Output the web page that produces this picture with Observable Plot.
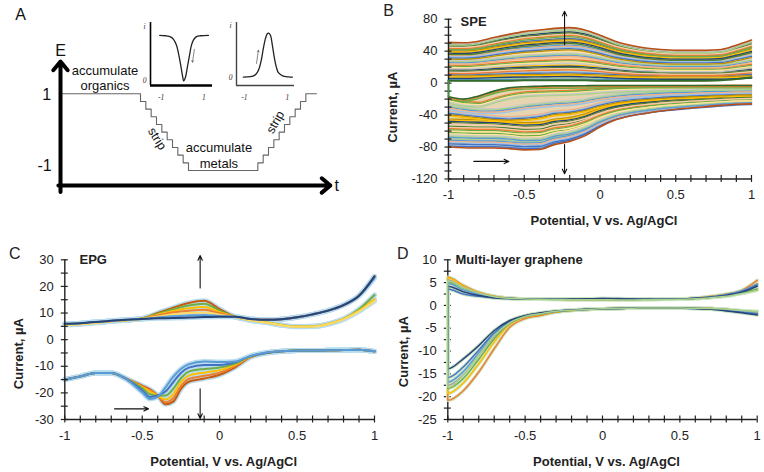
<!DOCTYPE html>
<html><head><meta charset="utf-8">
<script src="https://cdn.jsdelivr.net/npm/d3@7"></script>
<script src="https://cdn.jsdelivr.net/npm/@observablehq/plot@0.6"></script>
<style>
body{margin:0;background:#fff;}
#fig{position:relative;width:764px;height:472px;overflow:hidden;background:#fff;}
#fig svg{position:absolute;overflow:visible;}
</style></head><body><div id="fig"></div>
<script>
// ---------- Panel A: waveform schematic ----------
const waveT = [0,15,16,17,18,19,20,21,22,23,24,37,38,39,40,41,42,43,44,45,46,48];
const waveE = [1,0.8,0.6,0.4,0.2,0,-0.2,-0.4,-0.6,-0.8,-1,-0.8,-0.6,-0.4,-0.2,0,0.2,0.4,0.6,0.8,1,1];
const dipX = [-1.07,-0.8,-0.56,-0.42,-0.28,-0.19,-0.09,0,0.06,0.14,0.23,0.33,0.42,0.52,0.66,0.85,1.22];
const dipI = [1,0.99,0.965,0.91,0.78,0.61,0.37,0.12,0,0.08,0.3,0.56,0.78,0.9,0.97,0.99,1];
const peakX = [-1.05,-0.72,-0.53,-0.4,-0.3,-0.21,-0.12,-0.02,0.07,0.12,0.21,0.3,0.4,0.49,0.58,0.77,1.05,1.23];
const peakI = [0,0.01,0.04,0.11,0.22,0.4,0.65,0.88,0.99,1,0.95,0.72,0.42,0.22,0.1,0.03,0.005,0];

// ---------- Panels B-D: shared potential grid ----------
const vGrid = [-1,-0.9,-0.8,-0.7,-0.6,-0.5,-0.4,-0.3,-0.2,-0.1,0,0.1,0.2,0.3,0.4,0.5,0.6,0.7,0.8,0.9,1];
const xMajor = [-1,-0.5,0,0.5,1];

// B: SPE (outer -> inner)
const speAnodic = [
 [51,50.5,52.5,57,61,64.5,66.5,68.5,69.5,66.5,60,52.5,47.5,44,42,41,41,41,42,47.5,54],
 [45,44.6,46.3,50.3,53.8,56.8,58.6,60.3,61.2,58.6,52.9,46.3,41.9,38.9,37.1,36.3,36.3,36.3,37.1,41.9,47.6],
 [39,38.6,40.1,43.5,46.5,49.1,50.6,52.1,52.9,50.6,45.8,40.1,36.4,33.8,32.3,31.5,31.5,31.5,32.3,36.4,41.3],
 [33,32.7,33.9,36.8,39.3,41.4,42.7,43.9,44.6,42.7,38.6,33.9,30.8,28.6,27.4,26.8,26.8,26.8,27.4,30.8,34.9],
 [27,26.8,27.8,30,32,33.8,34.8,35.8,36.3,34.8,31.5,27.8,25.3,23.5,22.5,22,22,22,22.5,25.3,28.5],
 [21,20.8,21.6,23.3,24.8,26.1,26.8,27.6,27.9,26.8,24.4,21.6,19.7,18.4,17.6,17.3,17.3,17.3,17.6,19.7,22.1],
 [15,14.9,15.4,16.5,17.5,18.4,18.9,19.4,19.6,18.9,17.3,15.4,14.1,13.3,12.8,12.5,12.5,12.5,12.8,14.1,15.8],
 [9,8.9,9.2,9.8,10.3,10.7,10.9,11.2,11.3,10.9,10.1,9.2,8.6,8.1,7.9,7.8,7.8,7.8,7.9,8.6,9.4],
 [3,3,3,3,3,3.5,3.5,3.5,3.5,3.5,3,3,3,3,3,3,3,3,3.5,5,7]
];
const speCathodic = [
 [-80,-80.8,-81.2,-81.2,-82,-83.5,-83,-77,-73,-66,-55,-46.3,-41.2,-37.9,-34.9,-32.8,-31.1,-29.5,-27.8,-26.5,-26],
 [-73,-73.5,-74,-74,-75,-76.5,-76,-70.5,-67,-60.5,-50.5,-42.8,-38,-35,-32.3,-30.3,-28.7,-27.3,-25.7,-24.5,-24],
 [-65,-65.5,-66,-66,-67,-69,-68.5,-63.5,-60.5,-54.5,-45.5,-38.5,-34.3,-31.5,-29,-27.3,-25.8,-24.5,-23.1,-22,-21.5],
 [-57,-57.5,-58,-58,-59.5,-61,-60.5,-56,-53.5,-48,-40,-34,-30.3,-27.8,-25.6,-24.1,-22.8,-21.6,-20.4,-19.4,-19],
 [-48,-48.5,-49,-49.5,-51,-52.5,-52,-48,-46,-41.5,-34.5,-29.3,-26,-24,-22,-20.7,-19.6,-18.6,-17.6,-16.7,-16.3],
 [-38,-40,-42,-44,-45,-44,-42,-38,-36.5,-33,-27.5,-23.5,-21,-19.3,-17.8,-16.8,-15.9,-15.1,-14.3,-13.6,-13.3],
 [-30,-33,-35,-35,-33,-30,-28,-26,-25,-22.5,-19,-16.5,-14.8,-13.7,-12.7,-12,-11.4,-10.8,-10.3,-9.8,-9.6],
 [-22,-26,-27,-22,-17,-14,-13,-12.5,-12,-11,-9.5,-8.5,-7.8,-7.3,-6.9,-6.6,-6.3,-6,-5.8,-5.6,-5.5],
 [-17,-20,-16,-10,-6,-4.5,-4,-3.5,-3.5,-3.2,-3,-3,-3,-3,-3,-3,-3,-3,-3,-3,-3]
];
const speYMinor = [-120,-110,-100,-90,-80,-70,-60,-50,-40,-30,-20,-10,0,10,20,30,40,50,60,70,80];
const speYMajor = [-120,-80,-40,0,40,80];

// C: EPG
const epgAnodic = [
 [5.9,6.1,6.5,7,7.4,8,10,12,13.8,14.6,11.5,8.6,7.8,7.5,7.7,8.4,9.5,10.9,13,16.5,23.8],
 [5.9,6.1,6.5,7,7.4,8,9.7,11.4,12.8,13.5,10.9,8.6,7.3,6.5,5.5,4.9,5,5.9,7.8,11.4,16.8],
 [5.7,5.9,6.4,6.9,7.3,7.9,9.4,10.8,11.8,12.3,10.3,8.6,7.3,6.5,5.5,4.9,5,5.9,7.8,10.9,15.2],
 [5.9,6.1,6.5,7,7.4,7.9,9.1,10.2,10.9,11.2,9.9,8.6,7.8,7.5,7.7,8.4,9.5,10.9,13,16.5,23.5],
 [5.6,5.8,6.3,6.9,7.3,7.8,8.7,9.5,10,10.2,9.4,8.5,7.2,6.4,5.4,4.8,4.9,5.8,7.6,10.6,14.5],
 [6,6.2,6.6,7.1,7.5,7.8,8.3,8.8,9.1,9.3,8.9,8.6,7.8,7.5,7.7,8.4,9.5,10.9,13,16.5,23.2],
 [6,6.2,6.6,7.1,7.5,7.8,8,8.1,8.3,8.5,8.6,8.6,7.8,7.5,7.7,8.4,9.5,10.9,13,16.5,23.8]
];
const epgAnodicColors = ["#C55A11","#70AD47","#FFC000","#ED7D31","#FFD966","#5B9BD5","#264478"];
const epgCathX = [-1,-0.9,-0.8,-0.7,-0.6,-0.5,-0.45,-0.4,-0.35,-0.3,-0.25,-0.2,-0.1,0,0.1,0.2,0.3,0.4,0.5,0.6,0.7,0.8,0.9,1];
const epgCathodic = [
 [-15,-13.8,-12.5,-12.5,-14.8,-17.3,-18.7,-21,-24.3,-23.3,-18.5,-15.8,-14.6,-13.2,-10.4,-6.6,-5,-4.4,-4.1,-4.1,-4,-3.9,-3.8,-4.4],
 [-15,-13.8,-12.5,-12.5,-14.8,-17.5,-19,-21,-23.5,-22,-17.5,-14.8,-13.6,-12.4,-9.9,-6.5,-5,-4.4,-4.1,-4.1,-4,-3.9,-3.8,-4.4],
 [-15,-13.8,-12.5,-12.5,-14.8,-17.8,-19.5,-21,-22.5,-20.5,-16,-13.5,-12.4,-11.5,-9.4,-6.4,-5,-4.4,-4.1,-4.1,-4,-3.9,-3.8,-4.4],
 [-15,-13.8,-12.5,-12.5,-14.8,-18.2,-20.5,-21,-21,-18.5,-14.5,-12,-11,-10.5,-9,-6.3,-5,-4.4,-4.1,-4.1,-4,-3.9,-3.8,-4.4],
 [-15,-13.8,-12.5,-12.5,-14.8,-19,-21.5,-21,-19.5,-16,-12.5,-10.5,-9.5,-9.5,-8.5,-6.2,-5,-4.4,-4.1,-4.1,-4,-3.9,-3.8,-4.4],
 [-15,-13.8,-12.5,-12.5,-15,-19.8,-22.3,-21.5,-18,-14,-11,-9.3,-8.2,-8.4,-8.2,-6.1,-4.8,-4.4,-4.1,-4.1,-4,-3.9,-3.8,-4.4]
];
const epgCathodicColors = ["#C55A11","#ED7D31","#FFC000","#70AD47","#4472C4","#5B9BD5"];
const epgYMinor = [-30,-25,-20,-15,-10,-5,0,5,10,15,20,25,30];
const epgYMajor = [-30,-20,-10,0,10,20,30];

// D: multi-layer graphene
const mlgAnodic = [
 [6.2,4.4,2.9,2,1.6,1.45,1.4,1.35,1.3,1.3,1.3,1.3,1.3,1.35,1.4,1.45,1.6,2,2.5,3.3,5.5],
 [6,4.2,2.8,2,1.6,1.45,1.4,1.35,1.3,1.3,1.3,1.3,1.3,1.35,1.4,1.45,1.6,1.9,2.4,3.1,4.8],
 [5.2,3.8,2.6,1.9,1.55,1.4,1.35,1.3,1.3,1.3,1.3,1.25,1.25,1.3,1.35,1.4,1.5,1.75,2.1,2.7,3.6],
 [5.6,4,2.7,1.95,1.55,1.45,1.4,1.35,1.3,1.3,1.3,1.3,1.3,1.35,1.4,1.45,1.55,1.85,2.3,3,4.3],
 [4.8,3.4,2.4,1.8,1.5,1.4,1.35,1.35,1.35,1.4,1.45,1.4,1.35,1.35,1.4,1.45,1.6,1.9,2.4,3.2,4.7],
 [3.6,2.5,2,1.65,1.5,1.4,1.35,1.35,1.35,1.4,1.5,1.5,1.4,1.35,1.35,1.4,1.55,1.8,2.3,3,4.5],
 [4.2,3,2.2,1.7,1.5,1.4,1.35,1.35,1.4,1.45,1.5,1.45,1.4,1.35,1.35,1.4,1.55,1.8,2.2,2.9,4.2],
 [5.4,3.9,2.7,1.9,1.55,1.4,1.35,1.3,1.25,1.25,1.25,1.2,1.2,1.25,1.3,1.35,1.45,1.7,2,2.6,3.3]
];
const mlgCathodic = [
 [-20.8,-18.7,-14.6,-9.5,-4.8,-2.9,-2.2,-1.5,-1.1,-0.9,-0.75,-0.65,-0.6,-0.55,-0.55,-0.55,-0.6,-0.7,-0.9,-1.3,-1.6],
 [-19.3,-17,-12.8,-8,-4.2,-2.6,-2,-1.4,-1.1,-0.9,-0.75,-0.65,-0.6,-0.55,-0.55,-0.55,-0.6,-0.7,-0.9,-1.2,-1.5],
 [-18.2,-16,-11.8,-7.3,-4,-2.5,-1.9,-1.4,-1.1,-0.9,-0.75,-0.65,-0.6,-0.55,-0.55,-0.55,-0.6,-0.7,-0.9,-1.2,-1.4],
 [-17.5,-15.2,-11,-6.8,-3.8,-2.4,-1.8,-1.3,-1.05,-0.9,-0.75,-0.65,-0.6,-0.55,-0.55,-0.55,-0.6,-0.7,-0.9,-1.2,-1.5],
 [-16.8,-14.5,-10.4,-6.4,-3.6,-2.3,-1.8,-1.3,-1.05,-0.9,-0.75,-0.65,-0.6,-0.55,-0.55,-0.6,-0.65,-0.75,-1,-1.4,-1.8],
 [-15.8,-13.5,-9.8,-6,-3.5,-2.3,-1.7,-1.25,-1,-0.85,-0.75,-0.65,-0.6,-0.55,-0.55,-0.6,-0.65,-0.8,-1.1,-1.5,-1.9],
 [-13.9,-11.7,-8.8,-5.5,-3.3,-2.2,-1.6,-1.2,-1,-0.85,-0.75,-0.65,-0.6,-0.55,-0.55,-0.6,-0.7,-0.85,-1.2,-1.6,-2.1],
 [-18,-15.3,-10.9,-6.6,-3.8,-2.4,-1.8,-1.3,-1.05,-0.9,-0.75,-0.65,-0.6,-0.55,-0.55,-0.55,-0.6,-0.7,-0.85,-1.1,-1.3]
];
const mlgColors = ["#ED7D31","#FFC000","#70AD47","#A5A5A5","#5B9BD5","#4472C4","#264478","#A9D18E"];
const mlgYMinor = [-25,-22.5,-20,-17.5,-15,-12.5,-10,-7.5,-5,-2.5,0,2.5,5,7.5,10];
const mlgYMajor = [-25,-20,-15,-10,-5,0,5,10];

// annotation arrows (data units)
const speArrows = [{x1:-0.234,y1:48,x2:-0.234,y2:90},{x1:-0.234,y1:-77,x2:-0.234,y2:-113.5},{x1:-0.833,y1:-98,x2:-0.602,y2:-98}];
const epgArrows = [{x1:-0.126,y1:19.4,x2:-0.126,y2:31.6},{x1:-0.126,y1:-18.5,x2:-0.126,y2:-29.6},{x1:-0.679,y1:-26,x2:-0.459,y2:-26}];

// ---------- helpers ----------
const FONT = '"Liberation Sans", Arial, Helvetica, sans-serif';
const fig = document.getElementById("fig");
function place(svg, left, top) { svg.style.left = left + "px"; svg.style.top = top + "px"; fig.appendChild(svg); }
function toRows(xs, list) { const out = []; list.forEach((ys, k) => ys.forEach((y, i) => out.push({x: xs[i], y, k}))); return out; }
// closed CV loop per scan: cathodic branch (right -> left) then anodic branch (left -> right)
function loopRows(xs, up, lo) {
  const out = [];
  up.forEach((ys, k) => {
    for (let i = xs.length - 1; i >= 0; i--) out.push({x: xs[i], y: lo[k][i], k});
    for (let i = 0; i < xs.length; i++) out.push({x: xs[i], y: ys[i], k});
  });
  return out;
}

function cvPanel(c) {
  return Plot.plot({
    width: c.width, height: c.height,
    marginTop: c.m[0], marginRight: c.m[1], marginBottom: c.m[2], marginLeft: c.m[3],
    x: {domain: [-1, 1]}, y: {domain: c.yDomain}, color: {type: "identity"},
    style: {fontFamily: FONT, fontSize: "13px", color: "#222", background: "transparent", overflow: "visible"},
    marks: [
      ...c.marks,
      Plot.ruleX([-1], {stroke: "#222", strokeWidth: 1.4}),
      Plot.ruleY([c.yDomain[0]], {stroke: "#222", strokeWidth: 1.4}),
      Plot.axisY({ticks: c.yMinor, tickSize: 7, dx: 3.5, tickFormat: () => "", label: null, stroke: "#222", strokeWidth: 1.2}),
      Plot.axisY({ticks: c.yMajor, tickSize: 0, tickPadding: 11, tickFormat: d => String(d), label: null, fontSize: 13}),
      Plot.axisX({ticks: vGrid, tickSize: 7, dy: -3.5, tickFormat: () => "", label: null, stroke: "#222", strokeWidth: 1.2}),
      Plot.axisX({ticks: xMajor, tickSize: 0, tickPadding: 11, tickFormat: d => String(d), label: null, fontSize: 13}),
      ...(c.after || []),
      Plot.text(["Potential, V vs. Ag/AgCl"], {text: d => d, frameAnchor: "bottom", dy: 42, dx: 4, textAnchor: "middle", lineAnchor: "middle", fontWeight: "bold", fontSize: 13}),
      Plot.text(["Current, \u00b5A"], {text: d => d, frameAnchor: "left", dx: c.yTitle[0], dy: c.yTitle[1], rotate: -90, textAnchor: "middle", lineAnchor: "middle", fontWeight: "bold", fontSize: 13}),
      Plot.text([c.name], {text: d => d, x: c.namePos[0], y: c.namePos[1], textAnchor: "start", lineAnchor: "middle", fontWeight: "bold", fontSize: 13}),
      Plot.text([c.letter], {text: d => d, frameAnchor: "top-left", dx: c.letterPos[0], dy: c.letterPos[1], textAnchor: "middle", lineAnchor: "middle", fontSize: 16}),
      ...(c.arrows ? [Plot.arrow(c.arrows, {x1: "x1", y1: "y1", x2: "x2", y2: "y2", stroke: "#111", strokeWidth: 1.1, headLength: 7, headAngle: 50})] : [])
    ]
  });
}

// ---------- Panel A ----------
const waveRows = waveT.map((t, i) => ({t, e: waveE[i]}));
const aText = [
  {t: 0, e: 2.13, s: "E", f: 16, it: "italic", r: 0},
  {t: 51.8, e: -1.39, s: "t", f: 16, it: "italic", r: 0},
  {t: -2.6, e: 0.96, s: "1", f: 16, it: "italic", r: 0},
  {t: -3, e: -0.87, s: "-1", f: 16, it: "italic", r: 0},
  {t: 8.35, e: 1.61, s: "accumulate", f: 13, it: "normal", r: 0},
  {t: 8.35, e: 1.22, s: "organics", f: 13, it: "normal", r: 0},
  {t: 29.7, e: -0.42, s: "accumulate", f: 13, it: "normal", r: 0},
  {t: 29.7, e: -0.82, s: "metals", f: 13, it: "normal", r: 0},
  {t: 18.1, e: -0.17, s: "strip", f: 12.5, it: "normal", r: 58},
  {t: 40.3, e: 0.26, s: "strip", f: 12.5, it: "normal", r: -60}
];
const svgA = Plot.plot({
  width: 340, height: 200, margin: 0,
  x: {domain: [0, 51], range: [60, 332], axis: null},
  y: {domain: [-1, 1], range: [170, 93.3], axis: null},
  style: {fontFamily: FONT, color: "#111", background: "transparent", overflow: "visible"},
  marks: [
    Plot.line(waveRows, {x: "t", y: "e", curve: "step-after", stroke: "#666", strokeWidth: 1.1}),
    Plot.arrow([{x1: 0, y1: -1.56, x2: 0, y2: 1.84}], {x1: "x1", y1: "y1", x2: "x2", y2: "y2", stroke: "#000", strokeWidth: 4, headLength: 4.2, headAngle: 80}),
    Plot.arrow([{x1: -0.4, y1: -1.39, x2: 50.6, y2: -1.39}], {x1: "x1", y1: "y1", x2: "x2", y2: "y2", stroke: "#000", strokeWidth: 4, headLength: 4.2, headAngle: 80}),
    Plot.text(aText, {x: "t", y: "e", text: "s", fontSize: d => d.f, fontStyle: d => d.it, rotate: "r", textAnchor: "middle", lineAnchor: "middle", fill: "#111"}),
    Plot.text(["A"], {text: d => d, frameAnchor: "top-left", dx: 20, dy: 14, textAnchor: "middle", lineAnchor: "middle", fontSize: 16})
  ]
});
place(svgA, 0, 0);

function inset(c) {
  return Plot.plot({
    width: 80, height: 92,
    marginLeft: c.xr[0], marginRight: 80 - c.xr[1], marginTop: c.yr[1], marginBottom: 92 - c.yr[0],
    x: {domain: c.xd, axis: null}, y: {domain: c.yd, axis: null},
    style: {fontFamily: '"Liberation Serif", "DejaVu Serif", serif', color: "#333", background: "transparent", overflow: "visible"},
    marks: [
      Plot.ruleX([c.xd[0]], {stroke: c.axisColor, strokeWidth: c.yw}),
      Plot.ruleY([c.yd[0]], {stroke: c.axisColor, strokeWidth: c.xw}),
      Plot.line(c.rows, {x: "x", y: "i", stroke: "#222", strokeWidth: 1.3, curve: "catmull-rom"}),
      Plot.arrow([c.arrow], {x1: "x1", y1: "y1", x2: "x2", y2: "y2", stroke: "#555", strokeWidth: 0.7, headLength: 4}),
      Plot.text([{x: -1, s: "-1"}, {x: 1, s: "1"}], {x: "x", y: c.yd[0], dy: 12, text: "s", fontSize: 7.5, fontStyle: "italic", textAnchor: "middle", fill: "#333"}),
      Plot.text([{y: 0, s: "0"}, {y: c.yd[1] - 0.08, s: "i"}], {x: c.xd[0], y: "y", dx: -6, text: "s", fontSize: 7.5, fontStyle: "italic", textAnchor: "middle", fill: "#333"})
    ]
  });
}
const insetL = inset({xr: [15, 77], yr: [70, 7], xd: [-1.5, 1.41], yd: [-0.1, 1.28], axisColor: "#000", xw: 2.6, yw: 1.6,
  rows: dipX.map((x, k) => ({x, i: dipI[k]})), arrow: {x1: 0.56, y1: 0.69, x2: 0.47, y2: 0.41}});
place(insetL, 135, 15);
const insetR = inset({xr: [15, 73], yr: [70, 7], xd: [-1.37, 1.33], yd: [-0.19, 1.24], axisColor: "#444", xw: 1.4, yw: 1.4,
  rows: peakX.map((x, k) => ({x, i: peakI[k]})), arrow: {x1: -0.44, y1: 0.31, x2: -0.35, y2: 0.61}});
place(insetR, 221, 15);

// ---------- Panel B ----------
const palB = ["#ED7D31","#5B9BD5","#FFC000","#70AD47","#F4B183","#264478","#FFE699","#9DC3E6","#548235","#C9C9C9","#4472C4","#F8CBAD","#A9D18E","#BF9000"];
const speUpRows = toRows(vGrid, speAnodic);
const speLoRows = toRows(vGrid, speCathodic);
const nU = speAnodic.length, nL = speCathodic.length;
const bandUp = vGrid.map((x, i) => ({x, lo: speAnodic[nU - 1][i], hi: speAnodic[0][i]}));
const bandLo = vGrid.map((x, i) => ({x, lo: speCathodic[0][i], hi: speCathodic[nL - 1][i]}));
const speTurn = [{x: -1, y: speAnodic[nU - 1][0]}, {x: -1, y: speCathodic[nL - 1][0]}];
function bandMarks(rows, n, sign) {
  return [-2.4, -1.2, 0, 1.2, 2.4].map((off, j) => {
    const outward = sign > 0 ? off < 0 : off > 0;
    const inward = sign > 0 ? off > 0 : off < 0;
    const data = rows.filter(d => !(d.k === 0 && (outward || off === 0)) && !(d.k === n - 1 && inward));
    return Plot.line(data, {x: "x", y: "y", z: "k", stroke: d => palB[(d.k * 5 + j * 3 + (sign > 0 ? 0 : 7)) % palB.length], strokeWidth: 1.35, dy: off, curve: "monotone-x"});
  });
}
const svgB = cvPanel({
  width: 384, height: 230, m: [18.7, 13, 51.5, 68], yDomain: [-120, 80], yMinor: speYMinor, yMajor: speYMajor,
  yTitle: [-56, 8], name: "SPE", namePos: [-0.92, 77], letter: "B", letterPos: [-60, -8], arrows: speArrows,
  marks: [
    Plot.areaY(bandUp, {x: "x", y1: "lo", y2: "hi", fill: "#e6d5b0", curve: "monotone-x"}),
    Plot.areaY(bandLo, {x: "x", y1: "lo", y2: "hi", fill: "#e6d5b0", curve: "monotone-x"}),
    ...bandMarks(speUpRows, nU, 1),
    ...bandMarks(speLoRows, nL, -1),
    Plot.line(speUpRows.filter(d => d.k === nU - 1), {x: "x", y: "y", stroke: "#2F6B2F", strokeWidth: 2, curve: "monotone-x"}),
    Plot.line(speLoRows.filter(d => d.k === nL - 1), {x: "x", y: "y", stroke: "#2F6B2F", strokeWidth: 1.6, curve: "monotone-x"}),
    Plot.line(speUpRows.filter(d => d.k === 0), {x: "x", y: "y", stroke: "#B8501A", strokeWidth: 1.6, curve: "monotone-x"}),
    Plot.line(speLoRows.filter(d => d.k === 0), {x: "x", y: "y", stroke: "#B8501A", strokeWidth: 1.6, curve: "monotone-x"})
  ],
  after: [Plot.line(speTurn, {x: "x", y: "y", stroke: "#3E8E3E", strokeWidth: 1.8})]
});
place(svgB, 380, 0);

// ---------- Panel C ----------
const epgUpRows = toRows(vGrid, epgAnodic);
const epgLoRows = toRows(epgCathX, epgCathodic);
const svgC = cvPanel({
  width: 385, height: 237, m: [24.3, 11, 53, 64.3], yDomain: [-30, 30], yMinor: epgYMinor, yMajor: epgYMajor,
  yTitle: [-46, 14], name: "EPG", namePos: [-0.905, 29.9], letter: "C", letterPos: [-50, -5.5], arrows: epgArrows,
  marks: [
    Plot.line(epgUpRows, {x: "x", y: "y", z: "k", stroke: "#B9DDEE", strokeWidth: 5, curve: "monotone-x"}),
    Plot.line(epgLoRows, {x: "x", y: "y", z: "k", stroke: "#B9DDEE", strokeWidth: 5, curve: "monotone-x"}),
    Plot.line(epgUpRows, {x: "x", y: "y", z: "k", stroke: d => epgAnodicColors[d.k], strokeWidth: 2, curve: "monotone-x"}),
    Plot.line(epgLoRows, {x: "x", y: "y", z: "k", stroke: d => epgCathodicColors[d.k], strokeWidth: 2, curve: "monotone-x"})
  ]
});
place(svgC, 0, 235);

// ---------- Panel D ----------
const mlgLoops = loopRows(vGrid, mlgAnodic, mlgCathodic);
const svgD = cvPanel({
  width: 379, height: 237, m: [24.3, 7.3, 53, 62.3], yDomain: [-25, 10], yMinor: mlgYMinor, yMajor: mlgYMajor,
  yTitle: [-44, 12], name: "Multi-layer graphene", namePos: [-0.95, 10], letter: "D", letterPos: [-45, -5.5],
  marks: [],
  after: [
    Plot.line(mlgLoops, {x: "x", y: "y", z: "k", stroke: "#CFE6C4", strokeWidth: 3.5, curve: "monotone-x"}),
    Plot.line(mlgLoops, {x: "x", y: "y", z: "k", stroke: d => mlgColors[d.k], strokeWidth: 1.5, curve: "monotone-x"})
  ]
});
place(svgD, 385, 235);
</script></body></html>
